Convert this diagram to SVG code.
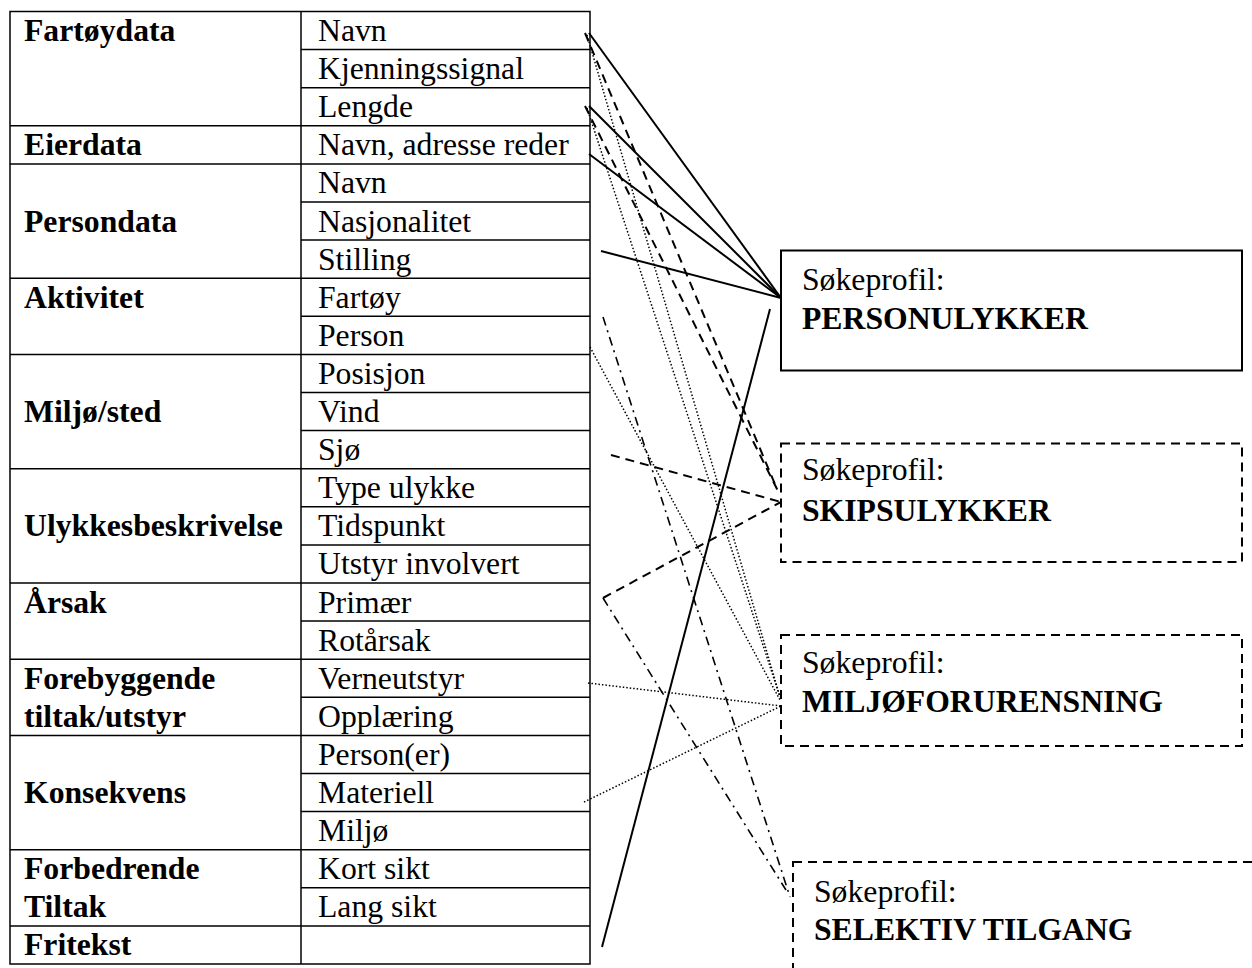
<svg xmlns="http://www.w3.org/2000/svg" width="1252" height="968" viewBox="0 0 1252 968">
<style>
.t{font-family:"Liberation Serif","Times New Roman",serif;font-size:31.7px;fill:#000}
.b{font-weight:bold}
.grid{stroke:#000;stroke-width:1.5;fill:none}
.solid{stroke:#000;stroke-width:2;fill:none}
.dash{stroke:#000;stroke-width:2;fill:none;stroke-dasharray:9 6}
.dot{stroke:#000;stroke-width:1.5;fill:none;stroke-dasharray:1.5 2}
.dd{stroke:#000;stroke-width:1.6;fill:none;stroke-dasharray:9 5 2 5}
.box{fill:#fff;stroke:#000;stroke-width:2}
.dbox{fill:#fff;stroke:#000;stroke-width:2;stroke-dasharray:9 6}
</style>
<rect width="1252" height="968" fill="#fff"/>
<g id="table">
<rect class="grid" x="10" y="11.5" width="580" height="952.5"/>
<line class="grid" x1="301" y1="11.5" x2="301" y2="964"/>
<g class="grid">
<line x1="10" y1="125.8" x2="590" y2="125.8"/>
<line x1="10" y1="163.9" x2="590" y2="163.9"/>
<line x1="10" y1="278.2" x2="590" y2="278.2"/>
<line x1="10" y1="354.4" x2="590" y2="354.4"/>
<line x1="10" y1="468.7" x2="590" y2="468.7"/>
<line x1="10" y1="583" x2="590" y2="583"/>
<line x1="10" y1="659.2" x2="590" y2="659.2"/>
<line x1="10" y1="735.4" x2="590" y2="735.4"/>
<line x1="10" y1="849.7" x2="590" y2="849.7"/>
<line x1="10" y1="925.9" x2="590" y2="925.9"/>
<line x1="301" y1="49.6" x2="590" y2="49.6"/>
<line x1="301" y1="87.7" x2="590" y2="87.7"/>
<line x1="301" y1="202" x2="590" y2="202"/>
<line x1="301" y1="240.1" x2="590" y2="240.1"/>
<line x1="301" y1="316.3" x2="590" y2="316.3"/>
<line x1="301" y1="392.5" x2="590" y2="392.5"/>
<line x1="301" y1="430.6" x2="590" y2="430.6"/>
<line x1="301" y1="506.8" x2="590" y2="506.8"/>
<line x1="301" y1="544.9" x2="590" y2="544.9"/>
<line x1="301" y1="621.1" x2="590" y2="621.1"/>
<line x1="301" y1="697.3" x2="590" y2="697.3"/>
<line x1="301" y1="773.5" x2="590" y2="773.5"/>
<line x1="301" y1="811.6" x2="590" y2="811.6"/>
<line x1="301" y1="887.8" x2="590" y2="887.8"/>
</g>
<g class="t b">
<text x="24" y="41">Fartøydata</text>
<text x="24" y="155.3">Eierdata</text>
<text x="24" y="231.5">Persondata</text>
<text x="24" y="307.7">Aktivitet</text>
<text x="24" y="422">Miljø/sted</text>
<text x="24" y="536.3">Ulykkesbeskrivelse</text>
<text x="24" y="612.5">Årsak</text>
<text x="24" y="688.7">Forebyggende</text>
<text x="24" y="726.8">tiltak/utstyr</text>
<text x="24" y="803">Konsekvens</text>
<text x="24" y="879.2">Forbedrende</text>
<text x="24" y="917.3">Tiltak</text>
<text x="24" y="955.4">Fritekst</text>
</g>
<g class="t">
<text x="318" y="41">Navn</text>
<text x="318" y="79.1">Kjenningssignal</text>
<text x="318" y="117.2">Lengde</text>
<text x="318" y="155.3">Navn, adresse reder</text>
<text x="318" y="193.4">Navn</text>
<text x="318" y="231.5">Nasjonalitet</text>
<text x="318" y="269.6">Stilling</text>
<text x="318" y="307.7">Fartøy</text>
<text x="318" y="345.8">Person</text>
<text x="318" y="383.9">Posisjon</text>
<text x="318" y="422">Vind</text>
<text x="318" y="460.1">Sjø</text>
<text x="318" y="498.2">Type ulykke</text>
<text x="318" y="536.3">Tidspunkt</text>
<text x="318" y="574.4">Utstyr involvert</text>
<text x="318" y="612.5">Primær</text>
<text x="318" y="650.6">Rotårsak</text>
<text x="318" y="688.7">Verneutstyr</text>
<text x="318" y="726.8">Opplæring</text>
<text x="318" y="764.9">Person(er)</text>
<text x="318" y="803">Materiell</text>
<text x="318" y="841.1">Miljø</text>
<text x="318" y="879.2">Kort sikt</text>
<text x="318" y="917.3">Lang sikt</text>
</g>
</g>
<g id="connectors">
<line class="solid" x1="589" y1="33" x2="781" y2="298"/>
<line class="solid" x1="589" y1="106" x2="781" y2="298"/>
<line class="solid" x1="589" y1="154" x2="781" y2="298"/>
<line class="solid" x1="601" y1="251" x2="781" y2="298"/>
<line class="solid" x1="602" y1="947" x2="770" y2="309"/>
<line class="dash" x1="585" y1="33" x2="777" y2="489"/>
<line class="dash" x1="585" y1="106" x2="779" y2="493"/>
<line class="dash" x1="611" y1="455" x2="781" y2="502"/>
<line class="dash" x1="603" y1="598" x2="781" y2="502"/>
<line class="dot" x1="587" y1="35" x2="780" y2="697"/>
<line class="dot" x1="587" y1="108" x2="780" y2="697"/>
<line class="dot" x1="590" y1="347" x2="780" y2="700"/>
<line class="dot" x1="588" y1="683" x2="781" y2="706"/>
<line class="dot" x1="584" y1="802" x2="781" y2="706"/>
<line class="dd" x1="603" y1="317" x2="790" y2="897"/>
<line class="dd" x1="603" y1="598" x2="786" y2="890"/>
</g>
<g id="personulykker">
<rect class="box" x="781" y="250.5" width="461" height="120"/>
<text class="t" x="802" y="290">Søkeprofil:</text>
<text class="t b" x="802" y="329">PERSONULYKKER</text>
</g>
<g id="skipsulykker">
<rect class="dbox" x="781" y="443.5" width="461" height="118.5"/>
<text class="t" x="802" y="480">Søkeprofil:</text>
<text class="t b" x="802" y="521">SKIPSULYKKER</text>
</g>
<g id="miljoforurensning">
<rect class="dbox" x="781" y="635" width="461" height="111"/>
<text class="t" x="802" y="673">Søkeprofil:</text>
<text class="t b" x="802" y="712">MILJØFORURENSNING</text>
</g>
<g id="selektiv">
<rect class="dbox" x="793" y="862" width="480" height="130"/>
<text class="t" x="814" y="902">Søkeprofil:</text>
<text class="t b" x="814" y="940">SELEKTIV TILGANG</text>
</g>
</svg>
